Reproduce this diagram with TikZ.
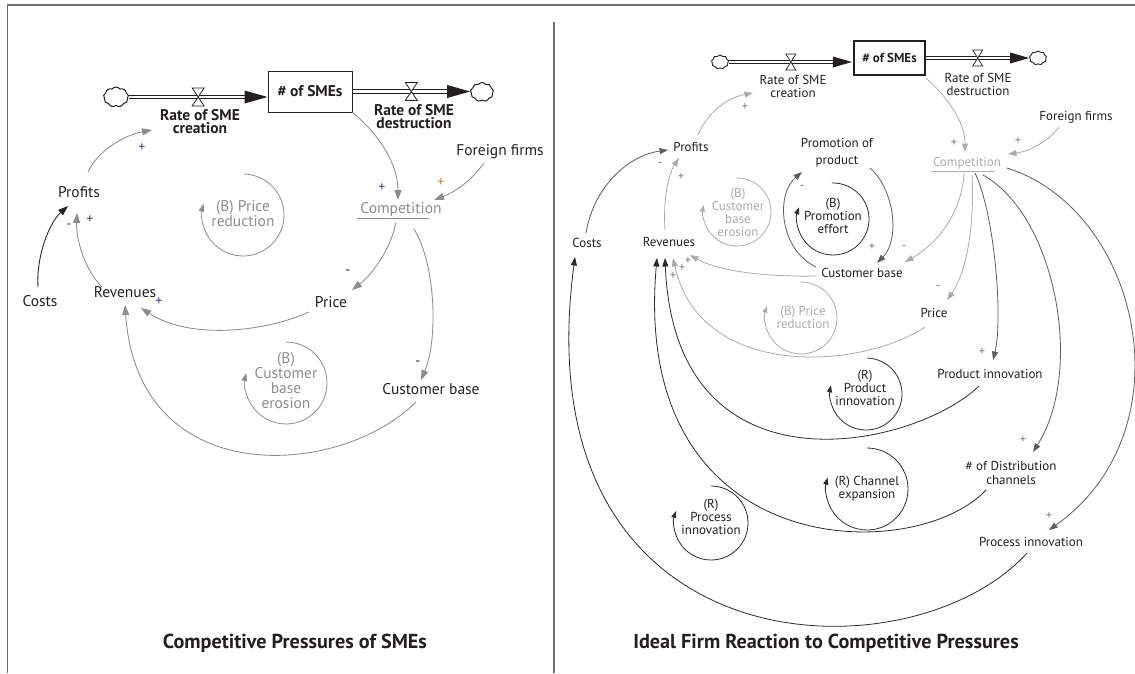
\documentclass[tikz,border=0pt]{standalone}
\usepackage{fontspec}
\setmainfont{PT Sans}
\usetikzlibrary{arrows.meta,shapes.symbols,calc}

\definecolor{ink}{HTML}{231F20}
\definecolor{lnk}{HTML}{8C8C8C}
\definecolor{lite}{HTML}{ABABAB}
\definecolor{dark}{HTML}{5C5C5C}
\definecolor{blk}{HTML}{2A2A2A}
\definecolor{sgnP}{HTML}{4B3B72}
\definecolor{sgnO}{HTML}{B5782F}
\definecolor{sgnG}{HTML}{7A7A7A}
\definecolor{rule}{HTML}{707070}

\tikzset{
  flowvalve/.pic={\draw[ink, fill=white, line width=0.8pt] (-6,-9) -- (6,-9) -- (-6,9) -- (6,9) -- cycle;},
  flowvalveR/.pic={\draw[ink, fill=white, line width=0.7pt] (-5,-8) -- (5,-8) -- (-5,8) -- (5,8) -- cycle;},
}

\begin{document}
\begin{tikzpicture}[x=1pt,y=-1pt,
  every node/.style={inner sep=0pt},
  lbl/.style={font=\fontsize{15.5}{15}\selectfont, text=ink, align=center},
  lblR/.style={font=\fontsize{13}{13.5}\selectfont, text=ink, align=center},
  rateL/.style={font=\bfseries\fontsize{15.5}{13.5}\selectfont, text=ink, align=center},
  rateR/.style={font=\fontsize{13}{13}\selectfont, text=ink, align=center},
  looplbl/.style={font=\fontsize{15.5}{15}\selectfont, text=lnk, align=center},
  looplblR/.style={font=\fontsize{13}{13}\selectfont, align=center},
  title/.style={font=\bfseries\fontsize{20.2}{22}\selectfont, text=ink},
  stockL/.style={draw=ink, line width=1pt, font=\bfseries\fontsize{15.5}{16}\selectfont, text=ink, minimum width=84pt, minimum height=41pt},
  stockR/.style={draw=ink, line width=2.2pt, font=\bfseries\fontsize{13}{14}\selectfont, text=ink, minimum width=71pt, minimum height=34pt},
  source/.style={cloud, cloud puffs=9, cloud puff arc=110, aspect=1.25, draw=ink, line width=1pt, fill=white},
  pipeL/.style={draw=ink, line width=0.9pt, double=white, double distance=2.6pt},
  pipeR/.style={draw=ink, line width=0.8pt, double=white, double distance=2.2pt},
  lkL/.style={draw=lnk, line width=0.85pt, -{Triangle[length=10pt,width=7pt]}},
  lkLb/.style={draw=ink, line width=0.85pt, -{Triangle[length=10pt,width=7pt]}},
  lkR/.style={line width=0.8pt, -{Triangle[length=8.5pt,width=6pt]}},
  loopL/.style={draw=lnk, line width=0.8pt, -{Triangle[length=8pt,width=5.5pt]}},
  loopR/.style={line width=0.8pt, -{Triangle[length=7pt,width=5pt]}},
  sgn/.style={font=\fontsize{14}{14}\selectfont},
  sgnR/.style={font=\fontsize{12.5}{12.5}\selectfont, text=sgnG},
]
\useasboundingbox (0,0) rectangle (1135,673);

% panel frame and divider
\draw[rule, line width=1.6pt] (7.5,673) -- (7.5,5) -- (1135,5);
\draw[rule, line width=1.6pt] (554,22) -- (554,673);

% ===================== left panel =====================
\node[stockL] (stockL) at (310,91.5) {\# of SMEs};
\node[source, minimum width=25pt, minimum height=20pt] (cloudL1) at (116,97) {};
\node[source, minimum width=23pt, minimum height=19pt] (cloudL2) at (482,92) {};
\coordinate (inL) at (cloudL1.east -| stockL.west);
\coordinate (outL) at (stockL.east -| cloudL2.west);
\draw[pipeL] (cloudL1.east) -- ([xshift=-18pt]inL);
\fill[ink] (inL) -- ++(-23,-6.5) -- ++(0,13) -- cycle;
\draw[pipeL] (stockL.east) -- ([xshift=-18pt]outL);
\fill[ink] (outL) -- ++(-23,-6.5) -- ++(0,13) -- cycle;
\pic at ($(cloudL1.east)!0.5!(inL)$) {flowvalve};
\pic at ($(stockL.east)!0.5!(outL)$) {flowvalve};

\node[rateL] (rateCL) at (200,121.5) {Rate of SME\\creation};
\node[rateL] (rateDL) at (414,116.5) {Rate of SME\\destruction};

\node[lbl] (profitsL) at (79,192) {Profits};
\node[lbl] (costsL) at (40,301) {Costs};
\node[lbl] (revL) at (125,292) {Revenues};
\node[lbl] (priceL) at (331,302) {Price};
\node[lbl, text=lnk] (compL) at (401,210) {Competition};
\node[lbl] (foreignL) at (500,152) {Foreign firms};
\node[lbl] (custL) at (431,389) {Customer base};
\draw[lnk, line width=0.8pt] ([shift={(-44,8.5)}]compL.center) -- ([shift={(28,8.5)}]compL.center);

% loop markers
\node[looplbl] (loopPL) at (243,214) {(B) Price\\reduction};
\draw[loopL] ([shift={(0,1)}]loopPL.center) ++(-88:41) arc[start angle=-88, end angle=196, radius=41];
\node[looplbl] (loopCL) at (286,381) {(B)\\Customer\\base\\erosion};
\draw[loopL] ([shift={(0,2)}]loopCL.center) ++(-90:41) arc[start angle=-90, end angle=194, radius=41];

% causal links
\draw[lkL] (stockL.south east) .. controls (380,135) and (398,165) .. ([shift={(-3,-10)}]compL.center);
\draw[lkL] ([shift={(-16,11)}]foreignL.center) .. controls (470,182) and (455,192) .. ([shift={(33,-10)}]compL.center);
\draw[lkL] ([shift={(-5,12)}]compL.center) .. controls (392,245) and (375,272) .. ([shift={(21,-12)}]priceL.center);
\draw[lkL] ([shift={(13,19)}]compL.center) .. controls (436,265) and (438,340) .. ([shift={(-10,-9)}]custL.center);
\draw[lkL] ([shift={(-22,10)}]priceL.center) .. controls (265,332) and (190,340) .. ([shift={(16,16)}]revL.center);
\draw[lkL] ([shift={(-15,13)}]custL.center) .. controls (340,478) and (138,492) .. ([shift={(0,13)}]revL.center);
\draw[lkL] ([shift={(-23,-5)}]revL.center) .. controls (85,270) and (76,240) .. ([shift={(-2,21)}]profitsL.center);
\draw[lkLb] ([shift={(-2,-14)}]costsL.center) .. controls (36,255) and (50,222) .. ([shift={(-11,14)}]profitsL.center);
\draw[lkL] ([shift={(9,-20)}]profitsL.center) .. controls (98,150) and (125,135) .. ([shift={(-48,8.5)}]rateCL.center);

% polarities
\node[sgn, text=sgnP] (sL1) at (382,188) {+};
\node[sgn, text=sgnO] (sL2) at (441,183) {+};
\node[sgn, text=ink] (sL3) at (348,272) {-};
\node[sgn, text=ink] (sL4) at (418,363) {-};
\node[sgn, text=sgnP] (sL5) at (159,302) {+};
\node[sgn, text=sgnP] (sL6) at (90,220) {+};
\node[sgn, text=sgnP] (sL7) at (69,226) {-};
\node[sgn, text=sgnP] (sL8) at (142,148) {+};

\node[title] (titleL) at (295,643) {Competitive Pressures of SMEs};

% ===================== right panel =====================
\node[stockR] (stockR) at (889.5,58) {\# of SMEs};
\node[source, minimum width=17pt, minimum height=14pt, line width=0.9pt] (cloudR1) at (720,62) {};
\node[source, minimum width=17pt, minimum height=14pt, line width=0.9pt] (cloudR2) at (1038,58) {};
\coordinate (inR) at (cloudR1.east -| stockR.west);
\coordinate (outR) at (stockR.east -| cloudR2.west);
\draw[pipeR] (cloudR1.east) -- ([xshift=-16pt]inR);
\fill[ink] ([xshift=-1pt]inR) -- ++(-19,-5.5) -- ++(0,11) -- cycle;
\draw[pipeR] (stockR.east) -- ([xshift=-16pt]outR);
\fill[ink] (outR) -- ++(-19,-5.5) -- ++(0,11) -- cycle;
\pic at ($(cloudR1.east)!0.5!(inR)$) {flowvalveR};
\pic at ($(stockR.east)!0.5!(outR)$) {flowvalveR};

\node[rateR] (rateCR) at (793,86.5) {Rate of SME\\creation};
\node[rateR] (rateDR) at (978,84.5) {Rate of SME\\destruction};

\node[lblR] (foreignR) at (1076,117) {Foreign firms};
\node[lblR, text=lite] (compR) at (967,163) {Competition};
\draw[lite, line width=0.8pt] ([shift={(-36,8)}]compR.center) -- ([shift={(27,8)}]compR.center);
\node[lblR] (profitsR) at (691,147) {Profits};
\node[lblR, font=\fontsize{13}{17}\selectfont] (promoR) at (837,152.5) {Promotion of\\product};
\node[lblR] (costsR) at (587,243) {Costs};
\node[lblR] (revR) at (669,242) {Revenues};
\node[lblR] (custR) at (862,273) {Customer base};
\node[lblR] (priceR) at (934,313) {Price};
\node[lblR] (prodR) at (990,374) {Product innovation};
\node[lblR] (distR) at (1011,473) {\# of Distribution\\channels};
\node[lblR] (procR) at (1031,542) {Process innovation};

% loop markers
\node[looplblR, text=lite] (loopCBR) at (738,212) {(B)\\Customer\\base\\erosion};
\draw[loopR, draw=lite] ([shift={(-1,0)}]loopCBR.center) ++(-90:34) arc[start angle=-90, end angle=192, radius=34];
\node[looplblR, text=ink] (loopPER) at (833,216) {(B)\\Promotion\\effort};
\draw[loopR, draw=blk] ([shift={(0,3)}]loopPER.center) ++(-92:36) arc[start angle=-92, end angle=199, radius=36];
\node[looplblR, text=lite] (loopPRR) at (803,317) {(B) Price\\reduction};
\draw[loopR, draw=lite] ([shift={(-2,1)}]loopPRR.center) ++(-90:36) arc[start angle=-90, end angle=200, radius=36];
\node[looplblR, text=ink] (loopPIR) at (865,388) {(R)\\Product\\innovation};
\draw[loopR, draw=blk] ([shift={(1,6)}]loopPIR.center) ++(-88:36) arc[start angle=-88, end angle=194, radius=36];
\node[looplblR, text=ink] (loopCER) at (867,489) {(R) Channel\\expansion};
\draw[loopR, draw=blk] (loopCER.center) ++(-90:41) arc[start angle=-90, end angle=196, radius=41];
\node[looplblR, text=ink] (loopPCR) at (711,517) {(R)\\Process\\innovation};
\draw[loopR, draw=blk] ([shift={(0,6)}]loopPCR.center) ++(-90:37) arc[start angle=-90, end angle=199, radius=37];

% causal links
\draw[lkR, draw=lite] ([shift={(0,2)}]stockR.south east) .. controls (945,95) and (965,120) .. ([shift={(-2,-11)}]compR.center);
\draw[lkR, draw=lite] ([shift={(-17,10)}]foreignR.center) .. controls (1045,145) and (1025,152) .. ([shift={(41,-9)}]compR.center);
\draw[lkR, draw=lite] ([shift={(7,-12)}]profitsR.center) .. controls (706,115) and (725,98) .. ([shift={(-40,6.5)}]rateCR.center);
\draw[lkR, draw=dark] ([shift={(-1,-10)}]costsR.center) .. controls (594,185) and (630,155) .. ([shift={(-23,3)}]profitsR.center);
\draw[lkR, draw=lite] ([shift={(-4,-12)}]revR.center) .. controls (663,200) and (668,175) .. ([shift={(-12,11)}]profitsR.center);
\draw[lkR, draw=dark] ([shift={(33,15.5)}]promoR.center) .. controls (895,190) and (900,240) .. ([shift={(15,-10)}]custR.center);
\draw[lkR, draw=dark] ([shift={(-46,-6)}]custR.center) .. controls (780,250) and (775,195) .. ([shift={(-35,19.5)}]promoR.center);
\draw[lkR, draw=lite] ([shift={(-3,10)}]compR.center) .. controls (962,215) and (935,245) .. ([shift={(43,-11)}]custR.center);
\draw[lkR, draw=lite] ([shift={(5,12)}]compR.center) .. controls (975,230) and (965,275) .. ([shift={(13,-13)}]priceR.center);
\draw[lkR, draw=dark] ([shift={(8,10)}]compR.center) .. controls (995,215) and (1003,320) .. ([shift={(3,-14)}]prodR.center);
\draw[lkR, draw=dark] ([shift={(16,12)}]compR.center) .. controls (1055,215) and (1085,370) .. ([shift={(22,-21)}]distR.center);
\draw[lkR, draw=dark] ([shift={(40,5)}]compR.center) .. controls (1140,210) and (1190,430) .. ([shift={(18,-12)}]procR.center);
\draw[lkR, draw=lite] ([shift={(-9,14)}]priceR.center) .. controls (860,370) and (700,380) .. ([shift={(4,16)}]revR.center);
\draw[lkR, draw=lite] ([shift={(-46,3)}]custR.center) .. controls (770,277) and (720,272) .. ([shift={(21,13)}]revR.center);
\draw[lkR, draw=blk] ([shift={(-11,12)}]prodR.center) .. controls (915,448) and (675,502) .. ([shift={(-4,16)}]revR.center);
\draw[lkR, draw=blk] ([shift={(-25,17)}]distR.center) .. controls (915,566) and (630,564) .. ([shift={(-12,16)}]revR.center);
\draw[lkR, draw=blk] ([shift={(-4,11)}]procR.center) .. controls (910,682) and (520,672) .. ([shift={(-12,14)}]costsR.center);

% polarities
\node[sgnR] (sR1) at (954,143) {+};
\node[sgnR] (sR2) at (1018,141) {+};
\node[sgnR] (sR3) at (745,107) {+};
\node[sgnR] (sR4) at (660,164) {-};
\node[sgnR] (sR5) at (681,177) {+};
\node[sgnR] (sR6) at (872,247) {+};
\node[sgnR] (sR7) at (802,187) {-};
\node[sgnR] (sR8) at (904,247) {-};
\node[sgnR] (sR9) at (938,287) {-};
\node[sgnR] (sR10) at (982,352) {+};
\node[sgnR] (sR11) at (1023,440) {+};
\node[sgnR] (sR12) at (1049,516) {+};
\node[sgnR] (sR13) at (688,261) {+};
\node[sgnR] (sR14) at (682,268) {+};
\node[sgnR] (sR15) at (673,276) {+};

\node[title] (titleR) at (826,643) {Ideal Firm Reaction to Competitive Pressures};
\end{tikzpicture}
\end{document}
